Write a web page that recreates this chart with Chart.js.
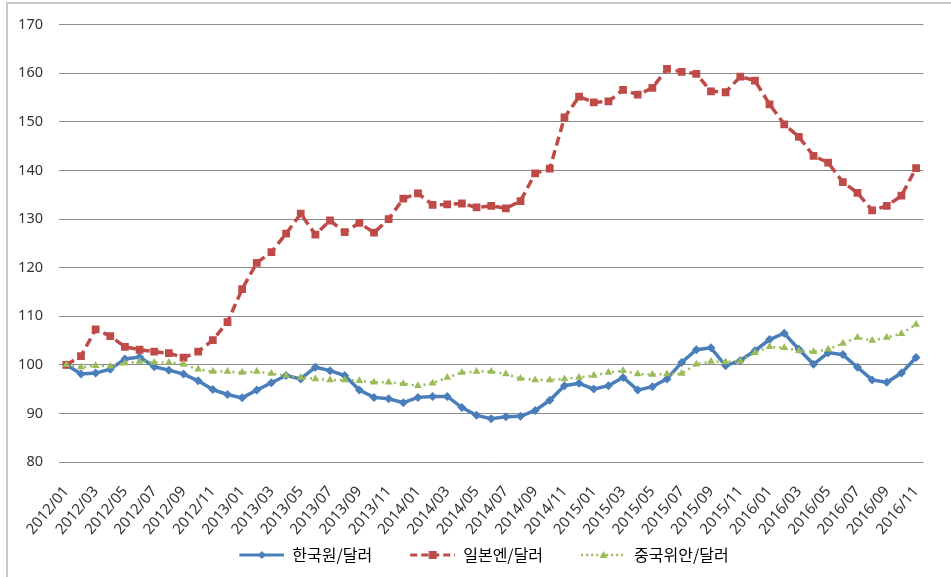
<!DOCTYPE html>
<html>
<head>
<meta charset="utf-8">
<script src="https://cdn.jsdelivr.net/npm/chart.js"></script>
<style>
  html, body { margin: 0; padding: 0; background: #fff; }
  #wrap { position: relative; width: 951px; height: 577px; }
  #frame { position: absolute; left: 6px; top: 2px; right: 0; bottom: 0;
           border-left: 2px solid #c9c9c9; border-top: 2px solid #c9c9c9; }
  canvas { position: absolute; left: 0; top: 0; }
</style>
</head>
<body>
<div id="wrap">
  <div id="frame"></div>
  <canvas id="fxChart" width="951" height="577"></canvas>
</div>
<script>
// monthly index, 2012/01 = 100
const months = [
  '2012/01','2012/02','2012/03','2012/04','2012/05','2012/06','2012/07','2012/08','2012/09','2012/10','2012/11','2012/12',
  '2013/01','2013/02','2013/03','2013/04','2013/05','2013/06','2013/07','2013/08','2013/09','2013/10','2013/11','2013/12',
  '2014/01','2014/02','2014/03','2014/04','2014/05','2014/06','2014/07','2014/08','2014/09','2014/10','2014/11','2014/12',
  '2015/01','2015/02','2015/03','2015/04','2015/05','2015/06','2015/07','2015/08','2015/09','2015/10','2015/11','2015/12',
  '2016/01','2016/02','2016/03','2016/04','2016/05','2016/06','2016/07','2016/08','2016/09','2016/10','2016/11'
];

const krwUsd = [100, 98.1, 98.3, 99.1, 101.2, 101.6, 99.6, 98.9, 98.1, 96.7, 94.9, 93.9,
  93.2, 94.8, 96.3, 97.8, 97.1, 99.5, 98.8, 97.8, 94.8, 93.3, 93.0, 92.2,
  93.3, 93.5, 93.5, 91.2, 89.6, 88.9, 89.3, 89.4, 90.6, 92.7, 95.7, 96.2,
  95.0, 95.7, 97.4, 94.8, 95.5, 97.1, 100.5, 103.1, 103.5, 99.8, 100.9, 102.9,
  105.2, 106.5, 103.2, 100.1, 102.5, 102.1, 99.5, 96.9, 96.4, 98.3, 101.5];

const jpyUsd = [100, 101.8, 107.3, 105.9, 103.7, 103.1, 102.7, 102.4, 101.5, 102.7, 105.1, 108.8,
  115.6, 121.0, 123.2, 127.0, 131.1, 126.8, 129.7, 127.3, 129.2, 127.2, 130.0, 134.2,
  135.3, 132.9, 133.0, 133.2, 132.4, 132.7, 132.2, 133.7, 139.4, 140.4, 150.9, 155.2,
  154.0, 154.2, 156.6, 155.6, 157.0, 160.9, 160.3, 159.9, 156.3, 156.1, 159.3, 158.5,
  153.6, 149.5, 146.9, 143.0, 141.6, 137.6, 135.4, 131.8, 132.7, 134.8, 140.5];

const cnyUsd = [100, 99.5, 99.8, 99.7, 100.3, 100.7, 100.5, 100.5, 100.1, 99.1, 98.6, 98.6,
  98.4, 98.6, 98.2, 97.8, 97.4, 97.1, 96.9, 96.9, 96.7, 96.4, 96.4, 96.1,
  95.7, 96.2, 97.4, 98.4, 98.6, 98.6, 98.1, 97.2, 96.9, 96.9, 97.1, 97.4,
  97.8, 98.4, 98.8, 98.1, 98.0, 98.1, 98.2, 100.1, 100.7, 100.6, 100.8, 102.5,
  103.7, 103.5, 102.9, 102.7, 103.2, 104.4, 105.6, 105.0, 105.6, 106.4, 108.3];

const seriesNames = ['한국원/달러', '일본엔/달러', '중국위안/달러'];

const BLUE = '#4a7ebb';
const RED = '#be4b48';
const GREEN = '#9bbb59';

// legend symbol: blank lead-in (item spacing) then a line + marker sample
const SAMPLE_W = 45;
const LEAD = 32;

function legendSample(color, dash, width, marker) {
  const c = document.createElement('canvas');
  c.width = LEAD + SAMPLE_W;
  c.height = 14;
  const g = c.getContext('2d');
  const x0 = LEAD, mid = LEAD + SAMPLE_W / 2;
  g.strokeStyle = color;
  g.lineWidth = width;
  g.setLineDash(dash);
  g.beginPath();
  g.moveTo(x0, 7);
  g.lineTo(x0 + SAMPLE_W, 7);
  g.stroke();
  g.setLineDash([]);
  g.fillStyle = color;
  g.beginPath();
  if (marker === 'diamond') {
    g.moveTo(mid, 3); g.lineTo(mid + 4, 7); g.lineTo(mid, 11); g.lineTo(mid - 4, 7);
  } else if (marker === 'square') {
    g.rect(mid - 4, 3, 8, 8);
  } else {
    g.moveTo(mid, 3); g.lineTo(mid + 4, 10); g.lineTo(mid - 4, 10);
  }
  g.closePath();
  g.fill();
  return c;
}

const samples = [
  legendSample(BLUE, [], 3, 'diamond'),
  legendSample(RED, [7, 4], 3, 'square'),
  legendSample(GREEN, [2, 3], 2.5, 'triangle')
];

const ctx = document.getElementById('fxChart').getContext('2d');

new Chart(ctx, {
  type: 'line',
  data: {
    labels: months,
    datasets: [
      {
        label: seriesNames[0],
        data: krwUsd,
        borderColor: BLUE,
        backgroundColor: BLUE,
        borderWidth: 3.5,
        pointStyle: 'rectRot',
        pointRadius: 4.5,
        pointBorderWidth: 0,
        tension: 0,
        order: 3
      },
      {
        label: seriesNames[1],
        data: jpyUsd,
        borderColor: RED,
        backgroundColor: RED,
        borderWidth: 3.5,
        borderDash: [9, 5],
        pointStyle: 'rect',
        pointRadius: 5.5,
        pointBorderWidth: 0,
        tension: 0,
        order: 2
      },
      {
        label: seriesNames[2],
        data: cnyUsd,
        borderColor: GREEN,
        backgroundColor: GREEN,
        borderWidth: 2.5,
        borderDash: [2, 4],
        pointStyle: 'triangle',
        pointRadius: 4.5,
        pointBorderWidth: 0,
        tension: 0,
        order: 1
      }
    ]
  },
  options: {
    responsive: false,
    animation: false,
    devicePixelRatio: 1,
    layout: {
      padding: { left: 0, right: 15, top: 20, bottom: 4 }
    },
    scales: {
      x: {
        offset: true,
        grid: { display: false, drawTicks: false },
        border: { display: false },
        ticks: {
          autoSkip: false,
          minRotation: 50,
          maxRotation: 50,
          padding: 21,
          color: '#333',
          font: { family: 'Noto Sans', size: 15 },
          callback: function(value, index) {
            return index % 2 === 0 ? months[index] : '';
          }
        },
        afterFit: function(scale) { scale.height = 79; }
      },
      y: {
        min: 80,
        max: 170,
        grid: { color: '#8c8c8c', lineWidth: 1, drawTicks: false },
        border: { display: false },
        ticks: {
          stepSize: 10,
          padding: 16,
          color: '#333',
          font: { family: 'Noto Sans', size: 14.5 }
        },
        afterFit: function(scale) { scale.width = 59; }
      }
    },
    plugins: {
      tooltip: { enabled: false },
      legend: {
        position: 'bottom',
        labels: {
          usePointStyle: true,
          pointStyleWidth: LEAD + SAMPLE_W,
          padding: 6,
          color: '#333',
          font: { family: '"Noto Sans CJK KR"', size: 16 },
          generateLabels: function(chart) {
            return chart.data.datasets.map((ds, i) => ({
              text: ds.label,
              pointStyle: samples[i],
              fillStyle: ds.borderColor,
              strokeStyle: ds.borderColor,
              lineWidth: 0,
              hidden: false,
              datasetIndex: i
            }));
          }
        }
      }
    }
  }
});
</script>
</body>
</html>
